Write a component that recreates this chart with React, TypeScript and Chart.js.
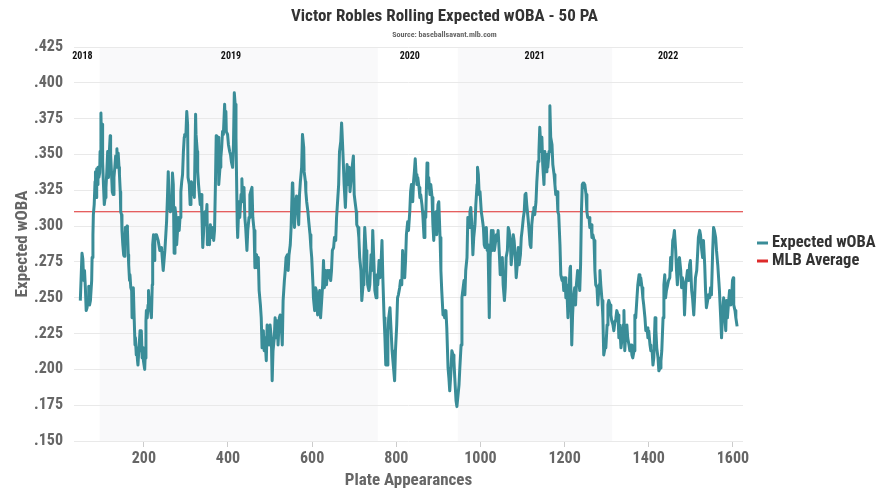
import { useEffect, useRef } from "react";
import { Chart, registerables } from "chart.js";

Chart.register(...registerables);

const TITLE = "Victor Robles Rolling Expected wOBA - 50 PA";
const SUBTITLE = "Source: baseballsavant.mlb.com";
const X_TITLE = "Plate Appearances";
const Y_TITLE = "Expected wOBA";
const SERIES_LABEL = "Expected wOBA";
const AVG_LABEL = "MLB Average";

const plateAppearances = [
  49, 53, 55, 57, 59, 61, 63, 65, 68, 69, 71, 73, 76, 77, 79, 80, 82, 84, 85, 87, 88, 90, 91, 93, 95, 96, 98, 99, 101, 102,
  104, 106, 108, 110, 112, 114, 116, 118, 120, 121, 123, 125, 127, 129, 131, 133, 134, 136, 137, 139, 141, 142, 144, 145, 147, 148, 150, 152, 153, 155,
  156, 158, 160, 161, 163, 164, 166, 167, 169, 171, 172, 174, 175, 177, 179, 180, 182, 183, 185, 186, 188, 190, 191, 193, 194, 196, 198, 199, 202, 203,
  205, 206, 208, 210, 211, 213, 214, 216, 218, 220, 221, 223, 225, 226, 228,
  230, 234, 238, 242, 246, 250, 254, 256, 258, 260, 263, 266, 268, 270, 272, 274, 276, 278, 282, 284, 286, 288, 290, 292, 294, 296, 297, 300, 302, 304,
  305, 308, 310, 312, 313, 316, 318, 320, 323, 324, 327, 328, 330, 332, 334, 336, 338, 340, 343, 345, 347, 350, 351, 354, 356, 358, 361, 363, 366, 368,
  370, 372, 373, 375, 377, 378, 381, 383, 385, 387, 389, 392, 393, 395, 396, 399, 401, 404, 406, 408, 411, 413, 415, 417, 419, 420, 422, 423, 426, 428,
  431, 433, 435, 438, 440, 442, 445, 447, 450, 452, 454, 457, 459,
  462, 464, 468, 469, 472, 474, 477, 479, 481, 484, 486, 488, 491, 493, 496, 498, 500, 503, 505, 507, 510, 512, 515, 517, 519, 522, 524, 526, 529, 531,
  534, 536, 538, 541, 543, 545, 548, 550, 553, 554, 556, 558, 561, 563, 565, 568, 570, 572, 575, 577, 580, 581, 584, 585, 587, 590, 592, 595, 597, 599,
  602, 603, 606, 608, 610, 613, 615, 618, 620, 622, 625, 627, 629, 632, 634, 637, 639, 641, 644, 646, 648, 651, 653, 656, 658, 660, 663, 665, 668, 670,
  671, 674, 676, 679,
  683, 686, 688, 690, 693, 695, 698, 700, 702, 705, 706, 709, 711, 713, 716, 718, 721, 723, 725, 728, 730, 732, 735, 737, 740, 742, 744, 747, 749, 752,
  754, 756, 759, 761, 763, 766, 768, 771, 773, 775, 778, 780, 782, 785, 787, 790, 792, 794, 796, 798, 801, 803, 805, 808, 810, 813, 815, 817, 820, 822,
  824, 827, 829, 832, 834, 836, 839, 841, 843, 845, 847, 849, 851, 854, 856, 858, 861, 863, 866, 868, 870, 873, 875, 877, 880, 882, 885, 887, 889, 892,
  894, 896, 899, 901, 904, 906, 908, 911, 913, 915,
  918, 920, 923, 925, 927, 930, 932, 935, 937, 939, 942, 944, 946, 949, 951, 954, 956, 958, 961, 963, 965, 968, 970, 973, 975, 977, 980, 982, 984, 987,
  989, 992, 993, 995, 997, 999, 1002, 1004, 1007, 1009, 1011, 1014, 1016, 1018, 1021, 1023, 1026, 1028, 1030, 1033, 1035, 1038, 1040, 1042, 1045, 1047, 1049, 1052, 1054, 1057,
  1059, 1061, 1064, 1066, 1068, 1071, 1073, 1076, 1078, 1080, 1083, 1085, 1087, 1090, 1092, 1095, 1097, 1099, 1102, 1104, 1106, 1108, 1110, 1113, 1115, 1118, 1120, 1122, 1125, 1127,
  1129, 1132, 1134, 1137, 1139, 1141,
  1144, 1146, 1148, 1151, 1153, 1156, 1158, 1160, 1163, 1165, 1167, 1170, 1172, 1175, 1177, 1179, 1182, 1184, 1186, 1189, 1191, 1194, 1196, 1198, 1201, 1203, 1205, 1208, 1210, 1213,
  1214, 1217, 1219, 1221, 1224, 1226, 1228, 1231, 1233, 1236, 1238, 1240, 1242, 1244, 1246, 1248, 1251, 1253, 1255, 1258, 1260, 1263, 1265, 1267, 1270, 1272, 1274, 1277, 1279, 1282,
  1284, 1286, 1289, 1291, 1293, 1296, 1298, 1301, 1303, 1305, 1308, 1310, 1312, 1315, 1317, 1320, 1322, 1324, 1327, 1329, 1331, 1334, 1336, 1339, 1341, 1343, 1346, 1348, 1350, 1353,
  1355,
  1358, 1360, 1362, 1365, 1367, 1369, 1372, 1374, 1377, 1379, 1381, 1384, 1386, 1388, 1391, 1393, 1396, 1398, 1400, 1403, 1405, 1408, 1410, 1412, 1415, 1417, 1419, 1422, 1424, 1427,
  1429, 1431, 1434, 1436, 1438, 1440, 1442, 1445, 1447, 1450, 1452, 1454, 1457, 1459, 1461, 1464, 1466, 1468, 1471, 1473, 1476, 1478, 1480, 1483, 1485, 1488, 1490, 1492, 1495, 1497,
  1499, 1502, 1504, 1507, 1509, 1511, 1514, 1516, 1518, 1521, 1523, 1526, 1528, 1530, 1533, 1535, 1537, 1540, 1542, 1545, 1547, 1549, 1552, 1554, 1556, 1559, 1561, 1564, 1566, 1568,
  1571, 1573, 1575, 1578, 1580, 1583, 1585, 1587, 1590, 1592, 1595, 1597, 1599, 1601, 1602, 1605, 1607, 1610,
];

const expectedWoba = [
  0.248, 0.281, 0.277, 0.262, 0.269, 0.257, 0.241, 0.243, 0.25, 0.258, 0.245, 0.248, 0.262, 0.278, 0.294, 0.308, 0.315, 0.331, 0.338, 0.32, 0.34, 0.329, 0.341, 0.334, 0.337, 0.352, 0.379, 0.362, 0.371, 0.345,
  0.329, 0.315, 0.32, 0.327, 0.338, 0.352, 0.334, 0.352, 0.363, 0.35, 0.338, 0.324, 0.322, 0.334, 0.341, 0.349, 0.343, 0.354, 0.341, 0.351, 0.341, 0.336, 0.324, 0.31, 0.308, 0.297, 0.287, 0.28, 0.279, 0.29,
  0.299, 0.29, 0.3, 0.297, 0.28, 0.273, 0.262, 0.266, 0.257, 0.255, 0.236, 0.238, 0.257, 0.236, 0.217, 0.222, 0.21, 0.215, 0.206, 0.203, 0.213, 0.222, 0.227, 0.213, 0.227, 0.208, 0.215, 0.206, 0.2, 0.208,
  0.234, 0.241, 0.236, 0.245, 0.255, 0.245, 0.25, 0.241, 0.236, 0.259, 0.287, 0.294, 0.276, 0.29, 0.294,
  0.294, 0.29, 0.283, 0.285, 0.269, 0.283, 0.303, 0.319, 0.338, 0.317, 0.31, 0.313, 0.337, 0.329, 0.281, 0.313, 0.308, 0.287, 0.306, 0.297, 0.306, 0.324, 0.331, 0.336, 0.352, 0.362, 0.364, 0.364, 0.38, 0.371,
  0.334, 0.329, 0.315, 0.329, 0.331, 0.322, 0.33, 0.32, 0.378, 0.364, 0.352, 0.338, 0.329, 0.322, 0.315, 0.322, 0.308, 0.285, 0.301, 0.31, 0.301, 0.315, 0.287, 0.297, 0.287, 0.301, 0.292, 0.299, 0.29, 0.297,
  0.327, 0.363, 0.352, 0.343, 0.362, 0.329, 0.341, 0.348, 0.355, 0.366, 0.364, 0.385, 0.376, 0.38, 0.366, 0.364, 0.357, 0.352, 0.35, 0.345, 0.341, 0.357, 0.393, 0.385, 0.362, 0.341, 0.301, 0.292, 0.317, 0.306,
  0.322, 0.333, 0.317, 0.327, 0.306, 0.299, 0.283, 0.297, 0.306, 0.322, 0.324, 0.327, 0.306,
  0.297, 0.271, 0.28, 0.271, 0.278, 0.255, 0.245, 0.236, 0.215, 0.227, 0.213, 0.222, 0.206, 0.231, 0.224, 0.217, 0.231, 0.222, 0.192, 0.213, 0.222, 0.236, 0.222, 0.234, 0.217, 0.236, 0.238, 0.234, 0.217, 0.248,
  0.262, 0.269, 0.278, 0.28, 0.269, 0.28, 0.287, 0.299, 0.33, 0.329, 0.31, 0.299, 0.317, 0.321, 0.317, 0.301, 0.322, 0.331, 0.341, 0.364, 0.355, 0.338, 0.331, 0.324, 0.317, 0.31, 0.303, 0.294, 0.285, 0.278,
  0.259, 0.25, 0.241, 0.257, 0.255, 0.238, 0.25, 0.255, 0.236, 0.245, 0.259, 0.276, 0.257, 0.269, 0.259, 0.269, 0.264, 0.269, 0.262, 0.269, 0.283, 0.285, 0.292, 0.29, 0.306, 0.315, 0.329, 0.352, 0.359, 0.372,
  0.366, 0.345, 0.329, 0.313,
  0.343, 0.329, 0.341, 0.324, 0.334, 0.341, 0.349, 0.322, 0.317, 0.31, 0.301, 0.299, 0.292, 0.278, 0.269, 0.248, 0.259, 0.278, 0.299, 0.283, 0.269, 0.259, 0.255, 0.259, 0.28, 0.269, 0.297, 0.273, 0.255, 0.25,
  0.266, 0.259, 0.276, 0.264, 0.269, 0.29, 0.264, 0.236, 0.222, 0.203, 0.203, 0.227, 0.236, 0.243, 0.231, 0.213, 0.206, 0.199, 0.192, 0.213, 0.231, 0.25, 0.252, 0.257, 0.262, 0.259, 0.283, 0.269, 0.264, 0.276,
  0.294, 0.303, 0.297, 0.31, 0.324, 0.329, 0.317, 0.331, 0.338, 0.347, 0.336, 0.329, 0.334, 0.327, 0.32, 0.322, 0.315, 0.308, 0.292, 0.31, 0.306, 0.344, 0.327, 0.334, 0.322, 0.329, 0.32, 0.301, 0.29, 0.306,
  0.31, 0.294, 0.315, 0.317, 0.292, 0.269, 0.255, 0.238, 0.241, 0.236,
  0.241, 0.229, 0.201, 0.194, 0.185, 0.199, 0.213, 0.21, 0.206, 0.194, 0.178, 0.174, 0.18, 0.189, 0.201, 0.217, 0.25, 0.255, 0.262, 0.252, 0.269, 0.278, 0.306, 0.299, 0.31, 0.313, 0.299, 0.28, 0.292, 0.301,
  0.315, 0.329, 0.341, 0.336, 0.322, 0.324, 0.31, 0.306, 0.299, 0.287, 0.285, 0.299, 0.283, 0.287, 0.236, 0.278, 0.297, 0.283, 0.297, 0.283, 0.287, 0.294, 0.29, 0.297, 0.28, 0.266, 0.271, 0.278, 0.259, 0.248,
  0.257, 0.278, 0.283, 0.299, 0.297, 0.29, 0.273, 0.283, 0.294, 0.29, 0.278, 0.264, 0.271, 0.285, 0.273, 0.28, 0.292, 0.297, 0.306, 0.31, 0.322, 0.323, 0.315, 0.306, 0.299, 0.287, 0.285, 0.301, 0.31, 0.313,
  0.308, 0.317, 0.331, 0.345, 0.352, 0.369,
  0.352, 0.362, 0.343, 0.329, 0.352, 0.338, 0.35, 0.341, 0.352, 0.384, 0.362, 0.357, 0.343, 0.336, 0.329, 0.322, 0.324, 0.31, 0.308, 0.287, 0.266, 0.262, 0.264, 0.255, 0.264, 0.25, 0.259, 0.236, 0.252, 0.271,
  0.272, 0.217, 0.238, 0.25, 0.257, 0.245, 0.259, 0.269, 0.264, 0.255, 0.273, 0.31, 0.329, 0.33, 0.327, 0.329, 0.322, 0.31, 0.306, 0.306, 0.299, 0.301, 0.292, 0.294, 0.29, 0.269, 0.259, 0.257, 0.245, 0.259,
  0.269, 0.259, 0.248, 0.236, 0.21, 0.215, 0.215, 0.231, 0.245, 0.248, 0.245, 0.238, 0.234, 0.231, 0.227, 0.234, 0.236, 0.241, 0.238, 0.222, 0.231, 0.215, 0.22, 0.231, 0.241, 0.213, 0.229, 0.231, 0.222, 0.217,
  0.213,
  0.217, 0.21, 0.208, 0.213, 0.238, 0.236, 0.25, 0.259, 0.266, 0.259, 0.264, 0.257, 0.25, 0.245, 0.236, 0.227, 0.229, 0.222, 0.227, 0.217, 0.213, 0.213, 0.203, 0.208, 0.236, 0.227, 0.215, 0.208, 0.199, 0.201,
  0.206, 0.213, 0.236, 0.259, 0.266, 0.25, 0.255, 0.259, 0.262, 0.264, 0.278, 0.269, 0.29, 0.292, 0.297, 0.283, 0.269, 0.259, 0.276, 0.278, 0.269, 0.257, 0.264, 0.259, 0.238, 0.259, 0.264, 0.269, 0.262, 0.273,
  0.276, 0.255, 0.25, 0.238, 0.25, 0.264, 0.269, 0.28, 0.292, 0.297, 0.294, 0.283, 0.278, 0.29, 0.273, 0.255, 0.243, 0.248, 0.252, 0.25, 0.257, 0.252, 0.283, 0.299, 0.297, 0.292, 0.283, 0.273, 0.264, 0.255,
  0.236, 0.222, 0.236, 0.25, 0.241, 0.227, 0.248, 0.236, 0.248, 0.255, 0.245, 0.25, 0.262, 0.264, 0.245, 0.241, 0.236, 0.23,
];

const mlbAverage = 0.31;

const seasonNames = ["2018", "2019", "2020", "2021", "2022"];
const seasonStartPA = [34, 95, 756, 946, 1313];
const seasonEndPA = [95, 756, 946, 1313, 1624];
const seasonLabelPA = [54, 407, 832, 1129, 1446];
const shadedSeasons = ["2019", "2021"];

const xTickValues = [200, 400, 600, 800, 1000, 1200, 1400, 1600];
const yTickValues = [0.15, 0.175, 0.2, 0.225, 0.25, 0.275, 0.3, 0.325, 0.35, 0.375, 0.4, 0.425];

const X_MIN = 34;
const X_MAX = 1624;
const Y_MIN = 0.15;
const Y_MAX = 0.425;

const TEAL = "#3a8d98";
const RED = "#dd2a2a";
const FONT = "'Roboto Condensed', Roboto, sans-serif";

const decorPlugin = {
  id: "decor",
  beforeDraw(chart: any) {
    const { ctx, chartArea, scales } = chart;
    const x = scales.x;
    ctx.save();
    ctx.fillStyle = "#f9f9fa";
    seasonNames.forEach((name, i) => {
      if (!shadedSeasons.includes(name)) return;
      const x0 = x.getPixelForValue(seasonStartPA[i]);
      const x1 = x.getPixelForValue(seasonEndPA[i]);
      ctx.fillRect(x0, chartArea.top, x1 - x0, chartArea.bottom - chartArea.top);
    });
    ctx.restore();
  },
  afterDraw(chart: any) {
    const { ctx, chartArea, scales, width } = chart;
    const x = scales.x;
    ctx.save();
    // season labels
    ctx.fillStyle = "#111";
    ctx.font = `bold 10px ${FONT}`;
    ctx.textAlign = "center";
    ctx.textBaseline = "alphabetic";
    seasonNames.forEach((name, i) => {
      ctx.fillText(name, x.getPixelForValue(seasonLabelPA[i]), chartArea.top + 12);
    });
    // title
    ctx.fillStyle = "#333";
    ctx.font = `bold 17px ${FONT}`;
    ctx.fillText(TITLE, width / 2, 21);
    ctx.fillStyle = "#666";
    ctx.font = `bold 8px ${FONT}`;
    ctx.fillText(SUBTITLE, width / 2, 37);
    // legend
    const ds = chart.data.datasets;
    const legendX = chartArea.right + 14;
    const legendY = [243, 261];
    ds.forEach((d: any, i: number) => {
      const cy = legendY[i];
      ctx.strokeStyle = d.borderColor;
      ctx.lineWidth = 3;
      ctx.beginPath();
      ctx.moveTo(legendX, cy);
      ctx.lineTo(legendX + 11, cy);
      ctx.stroke();
      ctx.fillStyle = "#333";
      ctx.font = `bold 16.5px ${FONT}`;
      ctx.textAlign = "left";
      ctx.textBaseline = "middle";
      ctx.fillText(d.label, legendX + 15, cy);
    });
    ctx.restore();
  },
};

export default function App() {
  const canvasRef = useRef<HTMLCanvasElement | null>(null);

  useEffect(() => {
    document.body.style.margin = "0";
    const canvas = canvasRef.current;
    if (!canvas) return;
    const chart = new Chart(canvas, {
      type: "line",
      data: {
        datasets: [
          {
            label: SERIES_LABEL,
            data: plateAppearances.map((pa, i) => ({ x: pa, y: expectedWoba[i] })),
            borderColor: TEAL,
            backgroundColor: TEAL,
            borderWidth: 3,
            pointRadius: 0,
            tension: 0,
            borderJoinStyle: "round",
          },
          {
            label: AVG_LABEL,
            data: [
              { x: X_MIN, y: mlbAverage },
              { x: X_MAX, y: mlbAverage },
            ],
            borderColor: RED,
            backgroundColor: RED,
            borderWidth: 1.2,
            pointRadius: 0,
          },
        ],
      },
      options: {
        animation: false,
        responsive: false,
        events: [],
        layout: { padding: { top: 47, right: 146, left: 0, bottom: 0 } },
        plugins: {
          legend: { display: false },
          title: { display: false },
          tooltip: { enabled: false },
        },
        scales: {
          x: {
            type: "linear",
            min: X_MIN,
            max: X_MAX,
            afterBuildTicks: (s: any) => {
              s.ticks = xTickValues.map((v) => ({ value: v }));
            },
            afterFit: (s: any) => {
              s.height = 59;
            },
            grid: { drawOnChartArea: false, drawTicks: true, tickLength: 6, color: "#cccccc" },
            border: { display: false },
            ticks: {
              color: "#666",
              font: { family: FONT, size: 16, weight: "bold" },
              padding: 2,
              maxRotation: 0,
              callback: (v: any) => String(v),
            },
            title: {
              display: true,
              text: X_TITLE,
              color: "#666",
              font: { family: FONT, size: 17, weight: "bold" },
              padding: { top: 0, bottom: 9 },
            },
          },
          y: {
            type: "linear",
            min: Y_MIN,
            max: Y_MAX,
            afterBuildTicks: (s: any) => {
              s.ticks = yTickValues.map((v) => ({ value: v }));
            },
            afterFit: (s: any) => {
              s.width = 74;
            },
            grid: { color: "#e9e9e9", drawTicks: false },
            border: { display: false },
            ticks: {
              color: "#666",
              font: { family: FONT, size: 16, weight: "bold" },
              padding: 11,
              callback: (v: any) => Number(v).toFixed(3).replace(/^0/, ""),
            },
            title: {
              display: true,
              text: Y_TITLE,
              color: "#666",
              font: { family: FONT, size: 17, weight: "bold" },
              padding: { top: 13, bottom: 0 },
            },
          },
        },
      },
      plugins: [decorPlugin],
    });
    return () => chart.destroy();
  }, []);

  return (
    <div style={{ width: 889, height: 500, background: "#fff" }}>
      <canvas ref={canvasRef} width={889} height={500} />
    </div>
  );
}
